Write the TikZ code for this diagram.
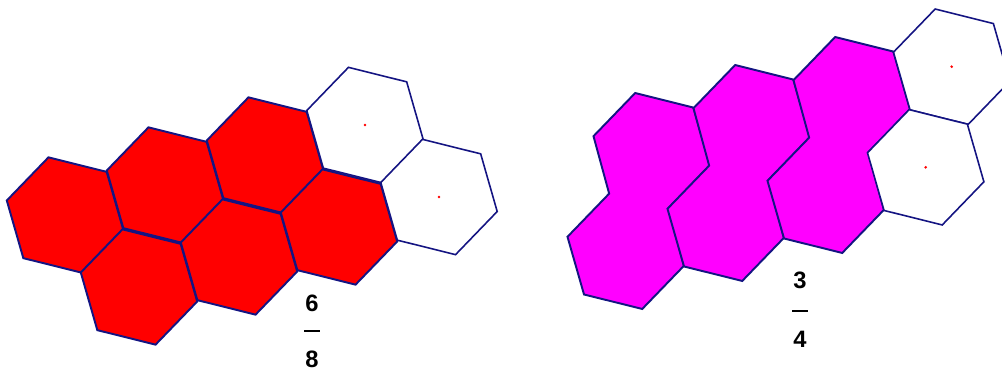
\documentclass[tikz,border=0pt]{standalone}
\usepackage{fontspec}
\setmainfont{Liberation Sans}
\usetikzlibrary{shapes.geometric}
\usetikzlibrary{calc}
\definecolor{hexblue}{RGB}{20,20,130}
\definecolor{hexpink}{RGB}{255,0,255}

\begin{document}
\begin{tikzpicture}[
      x=0.02cm, y=-0.02cm,
      hex/.style={regular polygon, regular polygon sides=6, minimum size=2.4cm,
        inner sep=0, outer sep=0, rotate=-14, draw=hexblue, line width=1.1pt},
      redhex/.style={hex, fill=red},
      emptyhex/.style={hex, fill=white, line width=0.9pt},
      pinkpair/.style={fill=hexpink, draw=hexblue, line width=1.1pt},
      centre/.style={red, inner sep=0.6, fill, circle},
      digit/.style={font=\bfseries\fontsize{13.5}{14}\selectfont, inner sep=0},
      fracbar/.style={fill=black, inner sep=0, minimum width=9pt, minimum height=1.4pt},
      ]

      \useasboundingbox (0,0) rectangle (1002,382);
      \clip (0,0) rectangle (1002,382);

      % left: 6 of 8
      \node[redhex] (r1) at (65,215) {};
      \node[redhex] (r2) at (165,185) {};
      \node[redhex] (r3) at (265,155) {};
      \node[redhex] (r4) at (139,287) {};
      \node[redhex] (r5) at (239,257) {};
      \node[redhex] (r6) at (339,227) {};
      \node[emptyhex] (w1) at (365,125) {};
      \node[emptyhex] (w2) at (439,197) {};
      \node[centre] (w1c) at (w1) {};
      \node[centre] (w2c) at (w2) {};

      \node[digit] (six) at (312,303) {6};
      \node[fracbar] (barl) at (312,331) {};
      \node[digit] (eight) at (312,359) {8};

      % right: 3 of 4, each column is one piece
      \coordinate (m1) at (651.7,150.7);
      \coordinate (m2) at (751.7,122.7);
      \coordinate (m3) at (851.7,94.7);
      \coordinate (m4) at (625.7,251.3);
      \coordinate (m5) at (725.7,223.3);
      \coordinate (m6) at (825.7,195.3);

      \filldraw[pinkpair] ($(m1)+(-106:60)$) -- ($(m1)+(-46:60)$) -- ($(m1)+(14:60)$) -- ($(m1)+(74:60)$)
        -- ($(m4)+(14:60)$) -- ($(m4)+(74:60)$) -- ($(m4)+(134:60)$) -- ($(m4)+(194:60)$)
        -- ($(m4)+(254:60)$) -- ($(m1)+(194:60)$) -- cycle;
      \filldraw[pinkpair] ($(m2)+(-106:60)$) -- ($(m2)+(-46:60)$) -- ($(m2)+(14:60)$) -- ($(m2)+(74:60)$)
        -- ($(m5)+(14:60)$) -- ($(m5)+(74:60)$) -- ($(m5)+(134:60)$) -- ($(m5)+(194:60)$)
        -- ($(m5)+(254:60)$) -- ($(m2)+(194:60)$) -- cycle;
      \filldraw[pinkpair] ($(m3)+(-106:60)$) -- ($(m3)+(-46:60)$) -- ($(m3)+(14:60)$) -- ($(m3)+(74:60)$)
        -- ($(m6)+(14:60)$) -- ($(m6)+(74:60)$) -- ($(m6)+(134:60)$) -- ($(m6)+(194:60)$)
        -- ($(m6)+(254:60)$) -- ($(m3)+(194:60)$) -- cycle;

      \node[emptyhex] (v1) at (951.7,66.7) {};
      \node[emptyhex] (v2) at (925.7,167.3) {};
      \node[centre] (v1c) at (v1) {};
      \node[centre] (v2c) at (v2) {};

      \node[digit] (three) at (800,280) {3};
      \node[fracbar] (barr) at (800,311) {};
      \node[digit] (four) at (800,339) {4};

    \end{tikzpicture}
\end{document}
